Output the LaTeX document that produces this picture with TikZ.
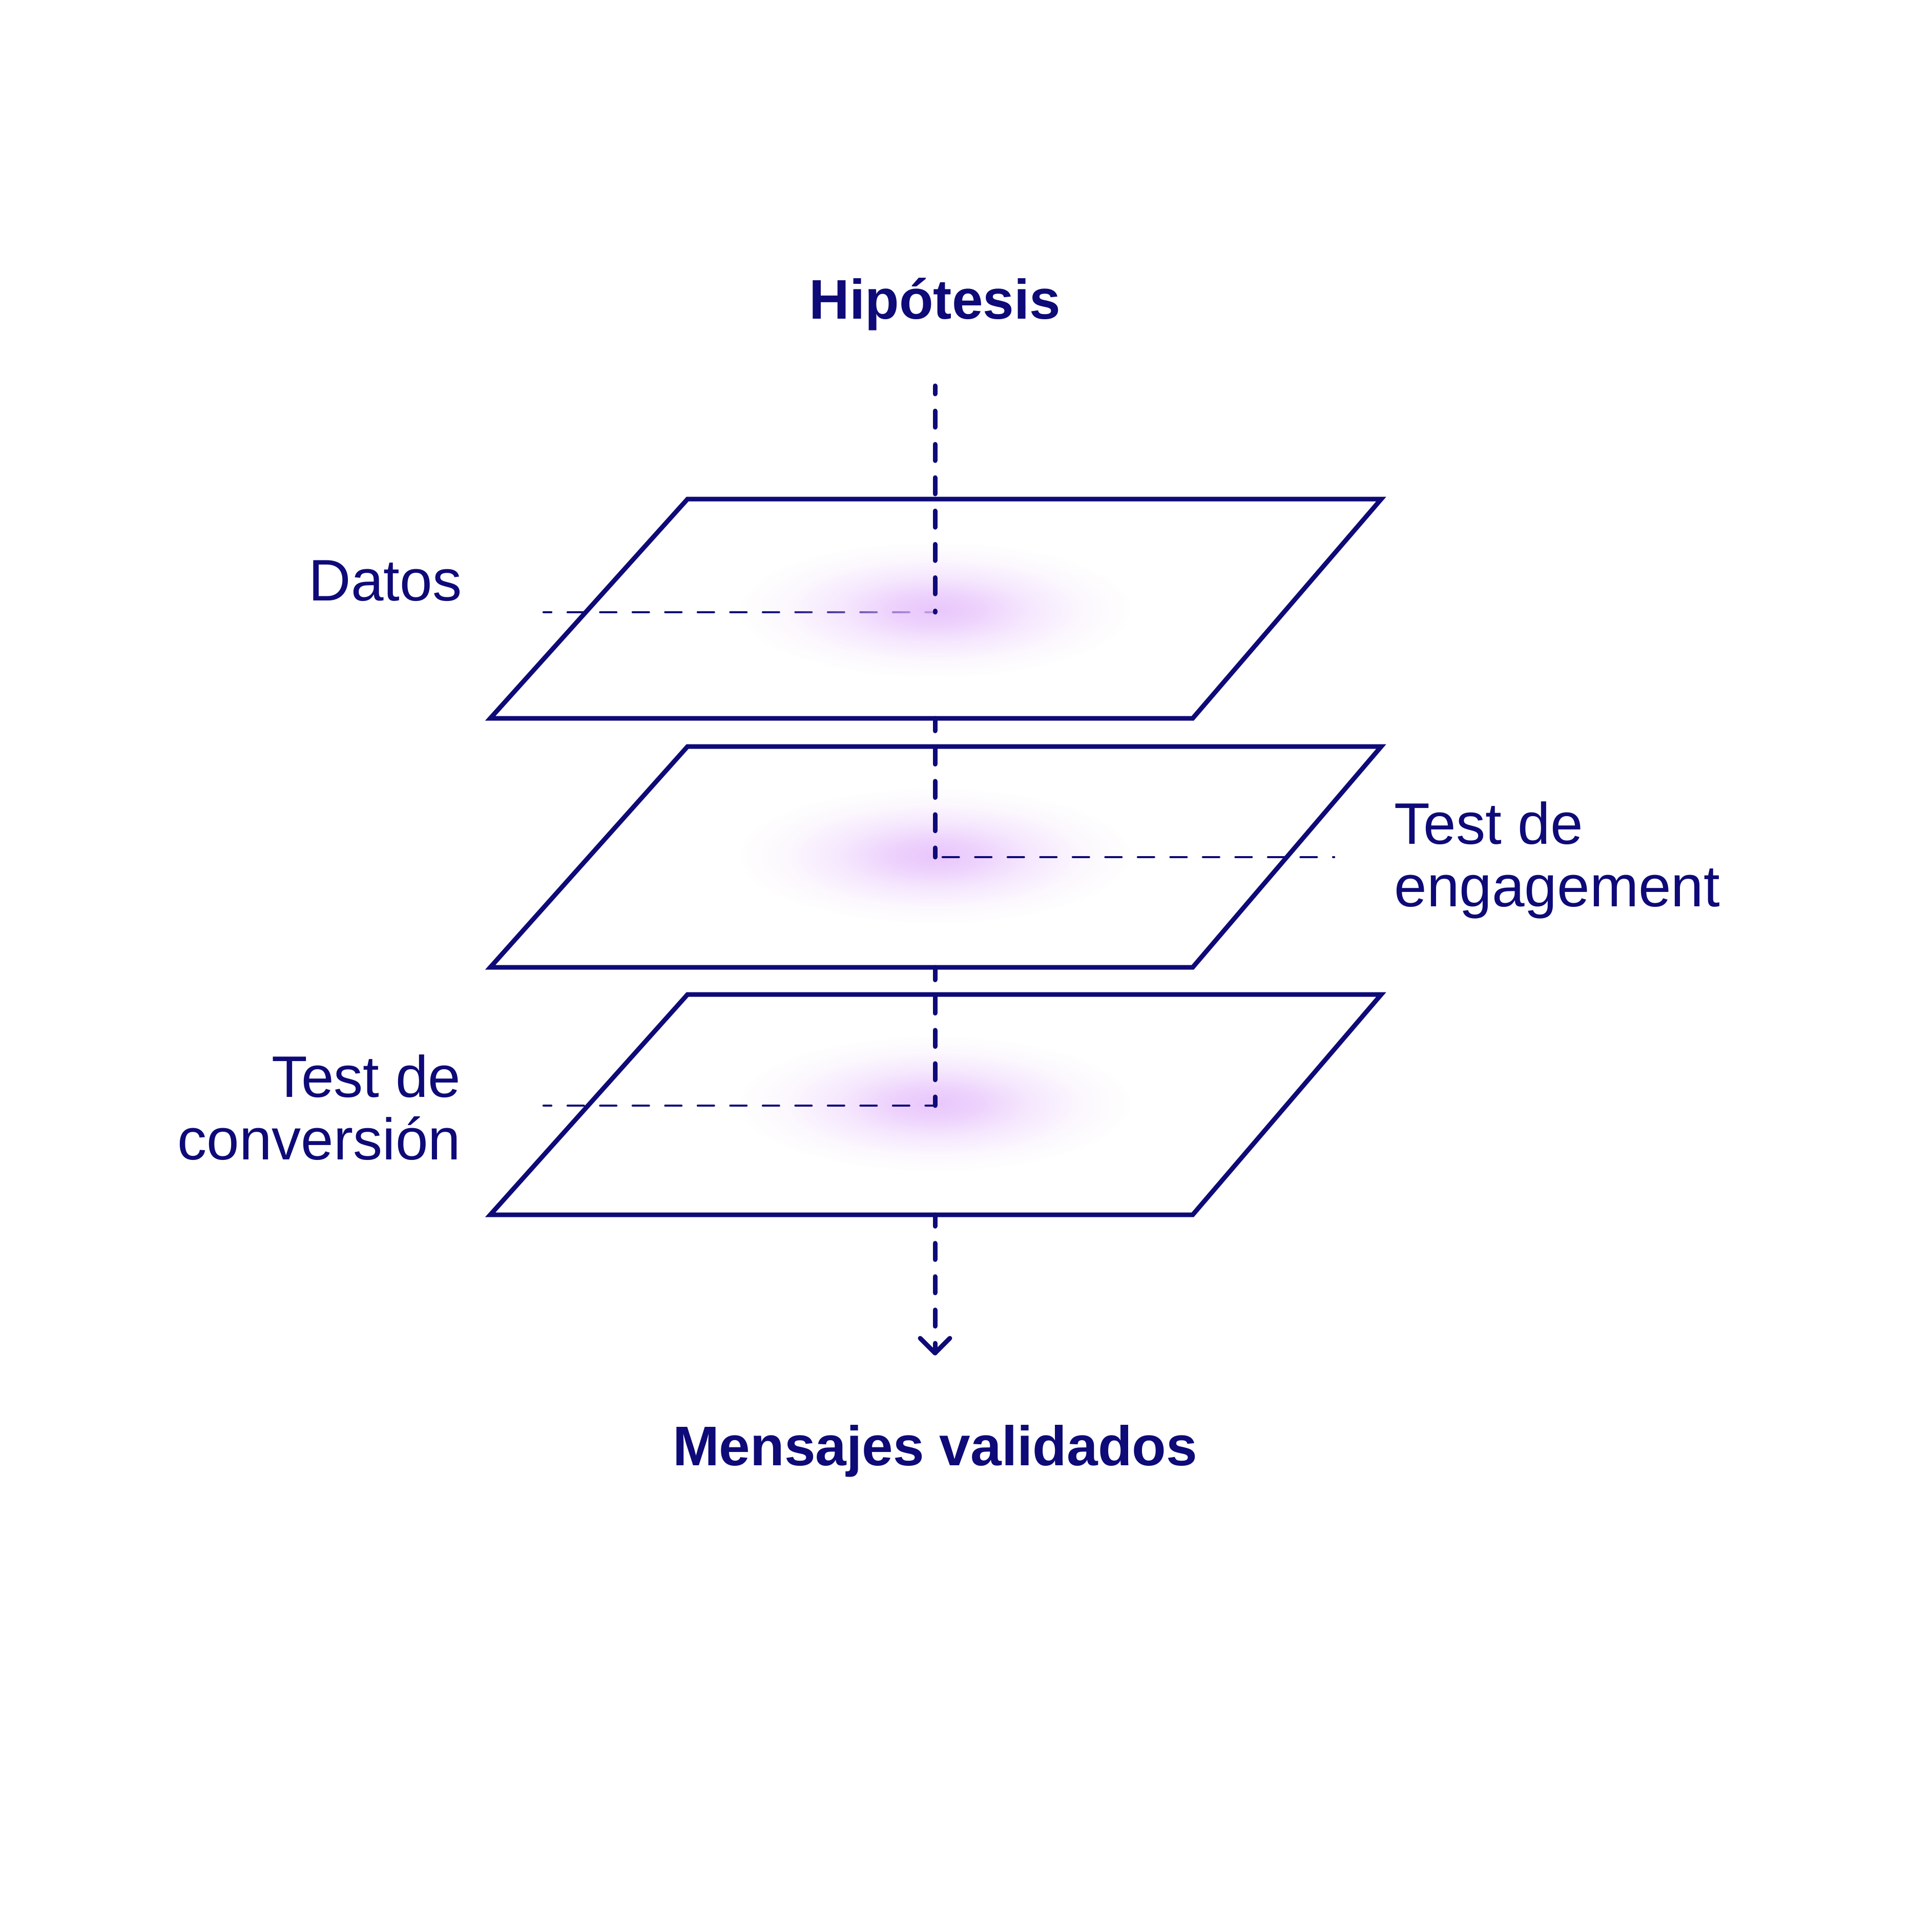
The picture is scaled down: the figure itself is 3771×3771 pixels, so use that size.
\documentclass[tikz,border=0pt]{standalone}
\usepackage{fontspec}
\setmainfont{Liberation Sans}
\usetikzlibrary{fadings}
\definecolor{navy}{RGB}{14,10,120}
\definecolor{glowc}{RGB}{229,188,252}
\pgfdeclareradialshading{glowshade}{\pgfpoint{0bp}{0bp}}{color(0bp)=(white!85!black); color(6bp)=(white!65!black); color(12bp)=(white!35!black); color(19bp)=(white!10!black); color(25bp)=(black); color(50bp)=(black)}
\pgfdeclarefading{glowfade}{\pgfuseshading{glowshade}}
\begin{document}
\begin{tikzpicture}[x=0.01cm,y=-0.01cm,
  layer/.style={draw=navy, line width=0.09cm, line join=miter},
  vdash/.style={draw=navy, line width=0.09cm, line cap=round, dash pattern=on 9.1pt off 9.4pt},
  hdash/.style={draw=navy, line width=0.045cm, line cap=round, dash pattern=on 8.96pt off 9.1pt},
  tipline/.style={draw=navy, line width=0.09cm, line cap=round, line join=round},
  lbl/.style={text=navy, font=\fontsize{32.5}{34.7}\selectfont, inner sep=0pt},
  ttl/.style={text=navy, font=\fontsize{31}{34}\selectfont\bfseries, inner sep=0pt},
  glow/.style={fill=glowc, path fading=glowfade}]
\fill[white] (0,0) rectangle (3771,3771);
\useasboundingbox (0,0) rectangle (3771,3771);

% layers
\draw[layer] (1342,974) -- (2696,974) -- (2328,1402) -- (957,1402) -- cycle;
\draw[layer] (1342,1457) -- (2696,1457) -- (2328,1888) -- (957,1888) -- cycle;
\draw[layer] (1342,1941) -- (2696,1941) -- (2328,2371) -- (957,2371) -- cycle;

% named points
\coordinate (vtop) at (1825,753);
\coordinate (c1) at (1825,1195);
\coordinate (c2) at (1825,1673);
\coordinate (c3) at (1825,2158);
\coordinate (e1) at (1825,1402);
\coordinate (e2) at (1825,1888);
\coordinate (e3) at (1825,2371);
\coordinate (tip) at (1825,2641);
\coordinate (h1) at (1061,1195);
\coordinate (h2) at (2604,1673);
\coordinate (h3) at (1061,2158);

% glows of layers 2 and 3 (under their lines)
\fill[glow] (1825,1670) ellipse [x radius=3.8cm, y radius=1.32cm];
\fill[glow] (1825,2154) ellipse [x radius=3.8cm, y radius=1.32cm];
\draw[hdash, dash phase=13.8pt] (c2) -- (h2);
\draw[hdash, dash phase=4.7pt] (h3) -- (c3);

% layer 1: line under glow
\draw[hdash, dash phase=4.7pt] (h1) -- (c1);
\fill[glow] (1825,1190) ellipse [x radius=3.8cm, y radius=1.32cm];

% vertical flow
\draw[vdash, dash phase=4.55pt] (vtop) -- (c1);
\draw[vdash, dash phase=2.1pt] (e1) -- (c2);
\draw[vdash, dash phase=2.1pt] (e2) -- (c3);
\draw[vdash, dash phase=2.7pt] (e3) -- (tip);
\draw[tipline] ([shift={(-29,-29)}]tip) -- (tip) -- ([shift={(29,-29)}]tip);

% texts
\node[ttl, anchor=base] (hyp) at (1825,622) {Hipótesis};
\node[ttl, anchor=base] (out) at (1825,2860) {Mensajes validados};
\node[lbl, anchor=base east] (datos) at (902,1172) {Datos};
\node[lbl, anchor=base west] (eng) at (2721,1769) {\begin{tabular}[b]{@{}l@{}}Test de\\engagement\end{tabular}};
\node[lbl, anchor=base east] (conv) at (900,2263) {\begin{tabular}[b]{@{}r@{}}Test de\\conversión\end{tabular}};
\end{tikzpicture}
\end{document}
